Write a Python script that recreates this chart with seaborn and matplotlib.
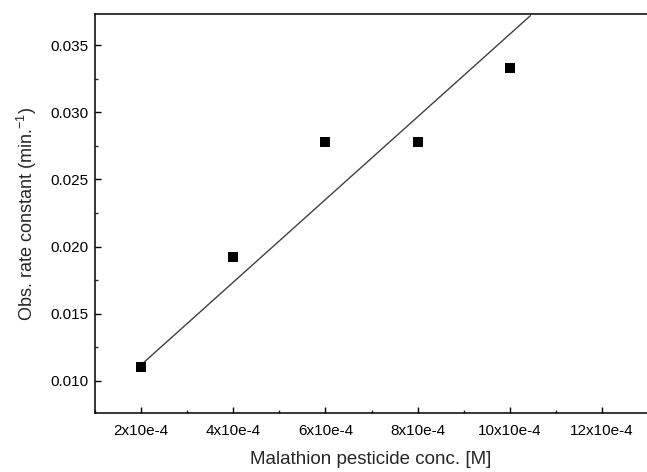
import numpy as np
import pandas as pd
import matplotlib
matplotlib.use("Agg")
import matplotlib.pyplot as plt
import seaborn as sns
from matplotlib.ticker import MultipleLocator

# du lieu doc tu hinh
conc = [2, 4, 6, 8, 10]  # x10e-4 M
k_obs = [0.0110, 0.0192, 0.0278, 0.0278, 0.0333]
fit_x = [2, 10.45]
fit_y = [0.0112, 0.0372]
x_ticks = [2, 4, 6, 8, 10, 12]
x_labels = ["2x10e-4", "4x10e-4", "6x10e-4", "8x10e-4", "10x10e-4", "12x10e-4"]

sns.set_style("ticks")
plt.rcParams["font.family"] = ["Liberation Sans", "DejaVu Sans"]
plt.rcParams["mathtext.default"] = "regular"

df = pd.DataFrame({"conc": conc, "k": k_obs})
df_fit = pd.DataFrame({"conc": fit_x, "k": fit_y})

fig, ax = plt.subplots(figsize=(6.47, 4.72), dpi=100)
fig.subplots_adjust(left=0.147, right=1.0, top=0.970, bottom=0.125)

sns.lineplot(data=df_fit, x="conc", y="k", ax=ax, color="#404040", linewidth=1.0)
sns.scatterplot(data=df, x="conc", y="k", ax=ax, marker="s", s=45,
                color="black", edgecolor="black", linewidth=0, zorder=3)

ax.set_xlim(1.0, 12.98)
ax.set_ylim(0.00761, 0.03731)
ax.set_xticks(x_ticks)
ax.set_xticklabels(x_labels)
ax.xaxis.set_minor_locator(MultipleLocator(1))
ax.yaxis.set_major_locator(MultipleLocator(0.005))
ax.yaxis.set_minor_locator(MultipleLocator(0.0025))
ax.yaxis.set_major_formatter(matplotlib.ticker.FormatStrFormatter("%.3f"))

ax.tick_params(which="major", direction="in", length=4, width=1, labelsize=11, colors="black")
ax.tick_params(which="minor", direction="in", length=2.5, width=1)
ax.tick_params(axis="x", pad=8)
ax.tick_params(axis="y", pad=5)
ax.spines["right"].set_visible(False)
for s in ax.spines.values():
    s.set_linewidth(1.1)
    s.set_color("black")

ax.set_xlabel("Malathion pesticide conc. [M]", fontsize=13.5, labelpad=9)
ax.set_ylabel("Obs. rate constant (min.$^{-1}$)", fontsize=13, labelpad=8)

plt.savefig("out.png", dpi=100)
